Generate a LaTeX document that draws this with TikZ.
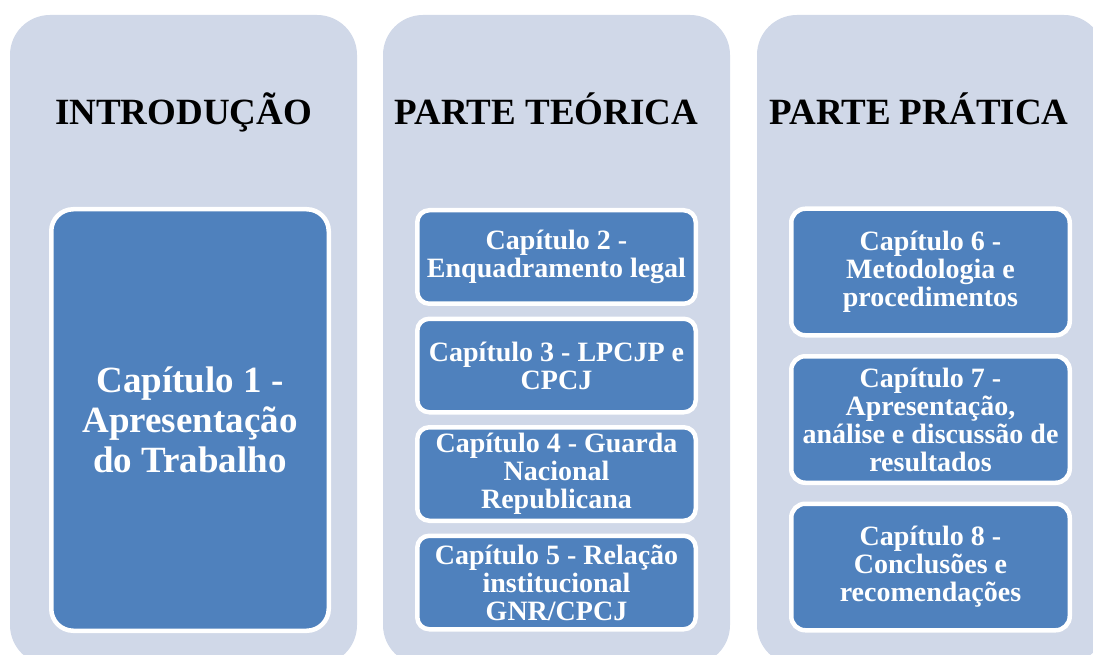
\documentclass[tikz,border=0pt]{standalone}
\usepackage{fontspec}
\setmainfont{Liberation Serif}
\definecolor{partgray}{HTML}{D0D8E8}
\definecolor{chapblue}{HTML}{4F81BD}

\begin{document}
\begin{tikzpicture}[x=1pt,y=-1pt,
  part/.style={fill=partgray,rounded corners=40pt,minimum width=347pt,minimum height=650pt,inner sep=0pt},
  parttitle/.style={anchor=base,font=\fontsize{37}{40}\selectfont\bfseries},
  chap/.style={fill=chapblue,draw=white,line width=4.5pt,rounded corners=12pt,minimum width=278.5pt,minimum height=93.5pt,inner sep=0pt,align=center,text=white,font=\fontsize{28}{28}\selectfont\bfseries},
  chaptall/.style={chap,minimum height=126.5pt,rounded corners=14pt},
  chapbig/.style={chap,minimum width=277.5pt,minimum height=421.5pt,rounded corners=22pt,font=\fontsize{37}{40}\selectfont\bfseries}]
\clip (0,0) rectangle (1093,655);
\fill[white] (0,0) rectangle (1093,655);

% the three parts
\node[part] (intro) at (183.5,340) {};
\node[part] (teoria) at (556.5,340) {};
\node[part] (pratica) at (930.5,340) {};

\node[parttitle] (introtitle) at (183.5,125) {INTRODUÇÃO};
\node[parttitle] (teoriatitle) at (546.5,125) {PARTE TEÓRICA};
\node[parttitle] (praticatitle) at (919,125) {PARTE PRÁTICA};

% chapters
\node[chapbig] (cap1) at (190,420) {Capítulo 1 -\\Apresentação\\do Trabalho};

\node[chap] (cap2) at (556.5,257) {Capítulo 2 -\\Enquadramento legal};
\node[chap] (cap3) at (556.5,365.5) {Capítulo 3 - LPCJP e\\CPCJ};
\node[chap] (cap4) at (556.5,474) {Capítulo 4 - Guarda\\Nacional\\Republicana};
\node[chap] (cap5) at (556.5,582.5) {Capítulo 5 - Relação\\institucional\\GNR/CPCJ};

\node[chaptall] (cap6) at (930.5,272) {Capítulo 6 -\\Metodologia e\\procedimentos};
\node[chaptall] (cap7) at (930.5,419.5) {Capítulo 7 -\\Apresentação,\\análise e discussão de\\resultados};
\node[chaptall] (cap8) at (930.5,567) {Capítulo 8 -\\Conclusões e\\recomendações};
\end{tikzpicture}
\end{document}
